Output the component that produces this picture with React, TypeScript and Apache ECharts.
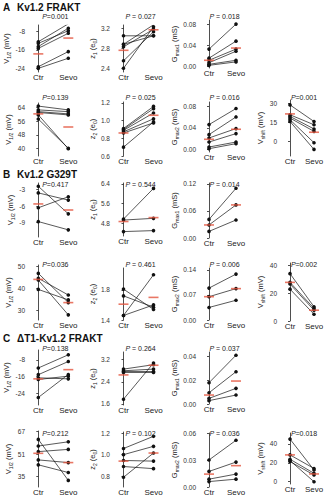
import React, { useEffect, useRef } from 'react';
import * as echarts from 'echarts';

const groups = ['Ctr', 'Sevo'];

// ---- A  Kv1.2 FRAKT ----
const aV1Ctr = [-12.4, -13.1, -14.5, -15.3, -23.3, -24.0];
const aV1Sevo = [-4.6, -7.6, -6.5, -8.7, -16.7, -19.6];
const aV1Mean = [-17.7, -10.8];
const aZ1Ctr = [3.05, 2.88, 2.88, 2.83, 2.55, 2.4];
const aZ1Sevo = [3.05, 3.05, 3.27, 3.18, 3.13, 3.23];
const aZ1Mean = [2.76, 3.17];
const aG1Ctr = [0.033, 0.016, 0.012, 0.0075, 0.0044, 0.0025];
const aG1Sevo = [0.08, 0.048, 0.033, 0.029, 0.012, 0.009];
const aG1Mean = [0.012, 0.035];
const aV2Ctr = [64.7, 62.5, 61.5, 61.0, 59.6, 57.2];
const aV2Sevo = [62.5, 61.5, 60.2, 59.6, 40.0, 40.3];
const aV2Mean = [60.2, 52.6];
const aZ2Ctr = [0.911, 0.9, 0.89, 0.873, 0.86, 0.7];
const aZ2Sevo = [1.16, 1.135, 1.086, 1.02, 0.974, 0.985];
const aZ2Mean = [0.86, 1.06];
const aG2Ctr = [0.0462, 0.0277, 0.0215, 0.014, 0.0048, 0.0017];
const aG2Sevo = [0.0759, 0.0604, 0.0389, 0.0296, 0.014, 0.011];
const aG2Mean = [0.0191, 0.0376];
const aVsCtr = [28.7, 20.9, 19.6, 18.3, 17.0, 15.6];
const aVsSevo = [15.6, 13.0, 9.7, 7.8, -1.2, -6.5];
const aVsMean = [21.6, 7.1];

// ---- B  Kv1.2 G329T ----
const bV1Ctr = [-2.4, -3.6, -6.3, -8.8];
const bV1Sevo = [-7.4, -4.9, -4.3, -10.3];
const bV1Mean = [-5.6, -6.7];
const bZ1Ctr = [4.97, 4.93, 4.46];
const bZ1Sevo = [6.22, 5.0, 4.5];
const bZ1Mean = [4.87, 5.03];
const bG1Ctr = [0.0413, 0.029, 0.0147];
const bG1Sevo = [0.1105, 0.0735, 0.04];
const bG1Mean = [0.029, 0.0735];
const bV2Ctr = [46.7, 44.5, 43.7, 39.5];
const bV2Sevo = [33.6, 37.0, 28.1, 34.8];
const bV2Mean = [44.0, 33.6];
const bZ2Ctr = [1.81, 1.72, 1.46, 1.46];
const bZ2Sevo = [1.54, 1.57, 2.0, 1.6];
const bZ2Mean = [1.61, 1.7];
const bG2Ctr = [0.089, 0.065, 0.035];
const bG2Sevo = [0.128, 0.0875, 0.055];
const bG2Mean = [0.065, 0.0875];
const bVsCtr = [34.2, 27.9, 26.7, 23.0];
const bVsSevo = [10.3, 9.1, 7.8, 4.9];
const bVsMean = [27.9, 7.8];

// ---- C  ΔT1-Kv1.2 FRAKT ----
const cV1Ctr = [-11.9, -15.1, -16.6, -17.4, -26.0];
const cV1Sevo = [-5.6, -8.8, -17.1, -15.8, -15.0];
const cV1Mean = [-17.1, -12.7];
const cZ1Ctr = [2.86, 2.8, 2.77, 2.74, 1.77];
const cZ1Sevo = [3.02, 2.86, 2.77, 2.74, 3.08];
const cZ1Mean = [2.65, 3.0];
const cG1Ctr = [0.0178, 0.0094, 0.0047, 0.0028];
const cG1Sevo = [0.0408, 0.027, 0.0131, 0.0075];
const cG1Mean = [0.0075, 0.0192];
const cV2Ctr = [61.4, 56.7, 52.7, 46.8, 43.3];
const cV2Sevo = [32.2, 59.7, 54.3, 44.9, 37.8];
const cV2Mean = [51.5, 44.9];
const cZ2Ctr = [1.057, 1.0, 0.946, 0.89, 0.79];
const cZ2Sevo = [1.17, 1.077, 0.94, 0.87, 1.015];
const cZ2Mean = [0.94, 1.015];
const cG2Ctr = [0.0304, 0.0175, 0.0088, 0.0061];
const cG2Sevo = [0.0525, 0.028, 0.0145, 0.0088];
const cG2Mean = [0.0145, 0.024];
const cVsCtr = [45.0, 28.3, 23.7, 22.3, 21.3];
const cVsSevo = [12.4, 14.0, 8.9, 0.0, 7.1];
const cVsMean = [28.3, 8.2];

// tick values
const tV1A = [-24, -16, -8];
const tZ1A = [2.4, 2.8, 3.2];
const tG1A = [0, 0.04, 0.08];
const tV2A = [40, 48, 56, 64];
const tZ2A = [0.6, 0.8, 1.0, 1.2];
const tG2A = [0, 0.04, 0.08];
const tVsA = [0, 15, 30];
const tV1B = [-9, -6, -3];
const tZ1B = [4.8, 5.6, 6.4];
const tG1B = [0, 0.06, 0.12];
const tV2B = [30, 40, 50];
const tZ2B = [1.4, 1.8];
const tG2B = [0, 0.07, 0.14];
const tVsB = [0, 20, 40];
const tV1C = [-24, -16, -8];
const tZ1C = [1.6, 2.4, 3.2];
const tG1C = [0, 0.02, 0.04];
const tV2C = [35, 51, 67];
const tZ2C = [0.8, 1.0, 1.2];
const tG2C = [0, 0.03, 0.06];
const tVsC = [0, 20, 40];

const pTexts = [
  ['=0.001', ' = 0.027', ' = 0.018'],
  ['=0.139', ' = 0.025', ' = 0.016', '=0.001'],
  ['=0.417', ' = 0.544', ' = 0.014'],
  ['=0.036', ' = 0.461', ' = 0.006', '=0.002'],
  ['=0.138', ' = 0.264', ' = 0.037'],
  ['=0.212', ' = 0.102', ' = 0.036', '=0.018'],
];

const sectionTitles = [
  { letter: 'A', text: 'Kv1.2 FRAKT' },
  { letter: 'B', text: 'Kv1.2 G329T' },
  { letter: 'C', text: 'ΔT1-Kv1.2 FRAKT' },
];

// y-axis names (rich text)
const nameV = '{b|V}{s|1/2}{b| (mV)}';
const nameZ1 = '{b|z}{s|1}{b| (e}{s|0}{b|)}';
const nameZ2 = '{b|z}{s|2}{b| (e}{s|0}{b|)}';
const nameG1 = '{b|G}{s|max1}{b| (mS)}';
const nameG2 = '{b|G}{s|max2}{b| (mS)}';
const nameVs = '{b|V}{s|shift}{b| (mV)}';

// layout (positions only)
const cols = [
  { L: 27, c: 38.3, s: 68.3, R: 78 },
  { L: 112, c: 123.5, s: 153.5, R: 163 },
  { L: 198, c: 209, s: 236, R: 245 },
  { L: 279, c: 290, s: 314, R: 323 },
];
const titleY = [7, 174, 338];

type Panel = {
  ctr: number[]; sevo: number[]; mean: number[]; ticks: number[];
  name: string; dec: number; col: number; row: number;
  top: number; bottom: number; min: number; max: number; gap: number;
};

const panels: Panel[] = [
  { ctr: aV1Ctr, sevo: aV1Sevo, mean: aV1Mean, ticks: tV1A, name: nameV, dec: 0, col: 0, row: 0, top: 25, bottom: 72, min: -25.6, max: -5.1, gap: 13 },
  { ctr: aZ1Ctr, sevo: aZ1Sevo, mean: aZ1Mean, ticks: tZ1A, name: nameZ1, dec: 1, col: 1, row: 0, top: 25, bottom: 72, min: 2.326, max: 3.266, gap: 12 },
  { ctr: aG1Ctr, sevo: aG1Sevo, mean: aG1Mean, ticks: tG1A, name: nameG1, dec: 2, col: 2, row: 0, top: 20, bottom: 68, min: -0.0025, max: 0.0877, gap: 16 },
  { ctr: aV2Ctr, sevo: aV2Sevo, mean: aV2Mean, ticks: tV2A, name: nameV, dec: 0, col: 0, row: 1, top: 103, bottom: 156, min: 35.8, max: 66.5, gap: 11 },
  { ctr: aZ2Ctr, sevo: aZ2Sevo, mean: aZ2Mean, ticks: tZ2A, name: nameZ2, dec: 1, col: 1, row: 1, top: 102, bottom: 156, min: 0.6, max: 1.21, gap: 12 },
  { ctr: aG2Ctr, sevo: aG2Sevo, mean: aG2Mean, ticks: tG2A, name: nameG2, dec: 2, col: 2, row: 1, top: 102, bottom: 152, min: -0.0044, max: 0.088, gap: 16 },
  { ctr: aVsCtr, sevo: aVsSevo, mean: aVsMean, ticks: tVsA, name: nameVs, dec: 0, col: 3, row: 1, top: 100, bottom: 156, min: -11.7, max: 32.6, gap: 11 },
  { ctr: bV1Ctr, sevo: bV1Sevo, mean: bV1Mean, ticks: tV1B, name: nameV, dec: 0, col: 0, row: 2, top: 183, bottom: 237, min: -11.6, max: -1.8, gap: 11 },
  { ctr: bZ1Ctr, sevo: bZ1Sevo, mean: bZ1Mean, ticks: tZ1B, name: nameZ1, dec: 1, col: 1, row: 2, top: 183, bottom: 236, min: 4.28, max: 6.44, gap: 12 },
  { ctr: bG1Ctr, sevo: bG1Sevo, mean: bG1Mean, ticks: tG1B, name: nameG1, dec: 2, col: 2, row: 2, top: 183, bottom: 238, min: 0, max: 0.1222, gap: 16 },
  { ctr: bV2Ctr, sevo: bV2Sevo, mean: bV2Mean, ticks: tV2B, name: nameV, dec: 0, col: 0, row: 3, top: 265, bottom: 320, min: 25.8, max: 50.45, gap: 11 },
  { ctr: bZ2Ctr, sevo: bZ2Sevo, mean: bZ2Mean, ticks: tZ2B, name: nameZ2, dec: 1, col: 1, row: 3, top: 268, bottom: 320, min: 1.4, max: 2.09, gap: 12 },
  { ctr: bG2Ctr, sevo: bG2Sevo, mean: bG2Mean, ticks: tG2B, name: nameG2, dec: 2, col: 2, row: 3, top: 268, bottom: 320, min: 0, max: 0.145, gap: 16 },
  { ctr: bVsCtr, sevo: bVsSevo, mean: bVsMean, ticks: tVsB, name: nameVs, dec: 0, col: 3, row: 3, top: 263, bottom: 321, min: 0, max: 41.9, gap: 11 },
  { ctr: cV1Ctr, sevo: cV1Sevo, mean: cV1Mean, ticks: tV1C, name: nameV, dec: 0, col: 0, row: 4, top: 350, bottom: 405, min: -29.6, max: -3.3, gap: 13 },
  { ctr: cZ1Ctr, sevo: cZ1Sevo, mean: cZ1Mean, ticks: tZ1C, name: nameZ1, dec: 1, col: 1, row: 4, top: 352, bottom: 405, min: 1.56, max: 3.48, gap: 12 },
  { ctr: cG1Ctr, sevo: cG1Sevo, mean: cG1Mean, ticks: tG1C, name: nameG1, dec: 2, col: 2, row: 4, top: 352, bottom: 404, min: 0, max: 0.0435, gap: 16 },
  { ctr: cV2Ctr, sevo: cV2Sevo, mean: cV2Mean, ticks: tV2C, name: nameV, dec: 0, col: 0, row: 5, top: 431, bottom: 487, min: 27.5, max: 67.4, gap: 11 },
  { ctr: cZ2Ctr, sevo: cZ2Sevo, mean: cZ2Mean, ticks: tZ2C, name: nameZ2, dec: 1, col: 1, row: 5, top: 432, bottom: 487, min: 0.7, max: 1.21, gap: 12 },
  { ctr: cG2Ctr, sevo: cG2Sevo, mean: cG2Mean, ticks: tG2C, name: nameG2, dec: 2, col: 2, row: 5, top: 433, bottom: 487, min: 0, max: 0.0607, gap: 16 },
  { ctr: cVsCtr, sevo: cVsSevo, mean: cVsMean, ticks: tVsC, name: nameVs, dec: 0, col: 3, row: 5, top: 433, bottom: 484, min: -2.4, max: 51.4, gap: 11 },
];

const pY = [16, 97, 184, 264, 348, 433];
const FONT = 'Liberation Sans, Arial, sans-serif';
const RED = '#e4553f';

function buildOption() {
  const grid: any[] = [];
  const xAxis: any[] = [];
  const yAxis: any[] = [];
  const series: any[] = [];
  const graphic: any[] = [];

  panels.forEach((p, i) => {
    const col = cols[p.col];
    const unit = col.s - col.c;
    grid.push({ left: col.L, top: p.top, width: col.R - col.L, height: p.bottom - p.top });
    xAxis.push({
      type: 'value', gridIndex: i,
      min: -(col.c - col.L) / unit, max: (col.R - col.c) / unit,
      axisLine: { show: false }, axisTick: { show: false }, splitLine: { show: false },
      axisLabel: {
        customValues: [0, 1], formatter: (v: number) => groups[Math.round(v)] ?? '',
        fontSize: 8, color: '#222', fontFamily: FONT, margin: 1,
      },
    });
    yAxis.push({
      type: 'value', gridIndex: i, min: p.min, max: p.max,
      name: p.name, nameLocation: 'middle', nameRotate: 90, nameGap: p.gap,
      nameTextStyle: {
        fontFamily: FONT, color: '#222',
        rich: {
          b: { fontSize: 7.5, fontFamily: FONT, color: '#222', lineHeight: 10, verticalAlign: 'middle' },
          s: { fontSize: 5, fontFamily: FONT, color: '#222', lineHeight: 10, verticalAlign: 'bottom' },
        },
      },
      axisLine: { show: true, lineStyle: { color: '#222', width: 0.8 } },
      axisTick: { show: true, customValues: p.ticks, length: 2, inside: false, lineStyle: { color: '#222', width: 0.8 } },
      splitLine: { show: false },
      axisLabel: {
        customValues: p.ticks, formatter: (v: number) => v.toFixed(p.dec),
        fontSize: 6.5, color: '#333', fontFamily: FONT, margin: 2,
      },
    });
    p.ctr.forEach((c, k) => {
      series.push({
        type: 'line', xAxisIndex: i, yAxisIndex: i,
        data: [[0, c], [1, p.sevo[k]]],
        symbol: 'circle', symbolSize: 3.6, showSymbol: true,
        lineStyle: { color: '#111', width: 0.7 },
        itemStyle: { color: '#111' },
        silent: true, z: 2,
      });
    });
    series.push({
      type: 'scatter', xAxisIndex: i, yAxisIndex: i,
      data: [[0, p.mean[0]], [1, p.mean[1]]],
      symbol: 'rect', symbolSize: [10, 1.6],
      itemStyle: { color: RED },
      silent: true, z: 5,
    });
    graphic.push({
      type: 'text',
      x: (col.c + col.s) / 2 + 2, y: pY[p.row],
      style: {
        text: '{i|P}{n|' + pTexts[p.row][p.col] + '}',
        fontSize: 7, fontFamily: FONT,
        fill: '#222', textAlign: 'center', textVerticalAlign: 'middle',
        rich: {
          i: { fontSize: 7, fontFamily: FONT, fontStyle: 'italic', fill: '#222' },
          n: { fontSize: 7, fontFamily: FONT, fill: '#222' },
        },
      },
      z: 10,
    });
  });

  sectionTitles.forEach((t, k) => {
    graphic.push({
      type: 'text', x: 3, y: titleY[k],
      style: { text: t.letter, fontSize: 10, fontWeight: 'bold', fontFamily: FONT, fill: '#111', textVerticalAlign: 'middle' },
    });
    graphic.push({
      type: 'text', x: 17, y: titleY[k],
      style: { text: t.text, fontSize: 10, fontWeight: 'bold', fontFamily: FONT, fill: '#111', textVerticalAlign: 'middle' },
    });
  });

  return { animation: false, backgroundColor: '#fff', grid, xAxis, yAxis, series, graphic };
}

export default function App() {
  const ref = useRef<HTMLDivElement>(null);
  useEffect(() => {
    if (!ref.current) return;
    const chart = echarts.init(ref.current, undefined, { renderer: 'svg' });
    chart.setOption(buildOption() as any);
    return () => chart.dispose();
  }, []);
  return (
    <div
      ref={ref}
      style={{ position: 'fixed', left: 0, top: 0, width: 334, height: 500, background: '#fff' }}
    />
  );
}
